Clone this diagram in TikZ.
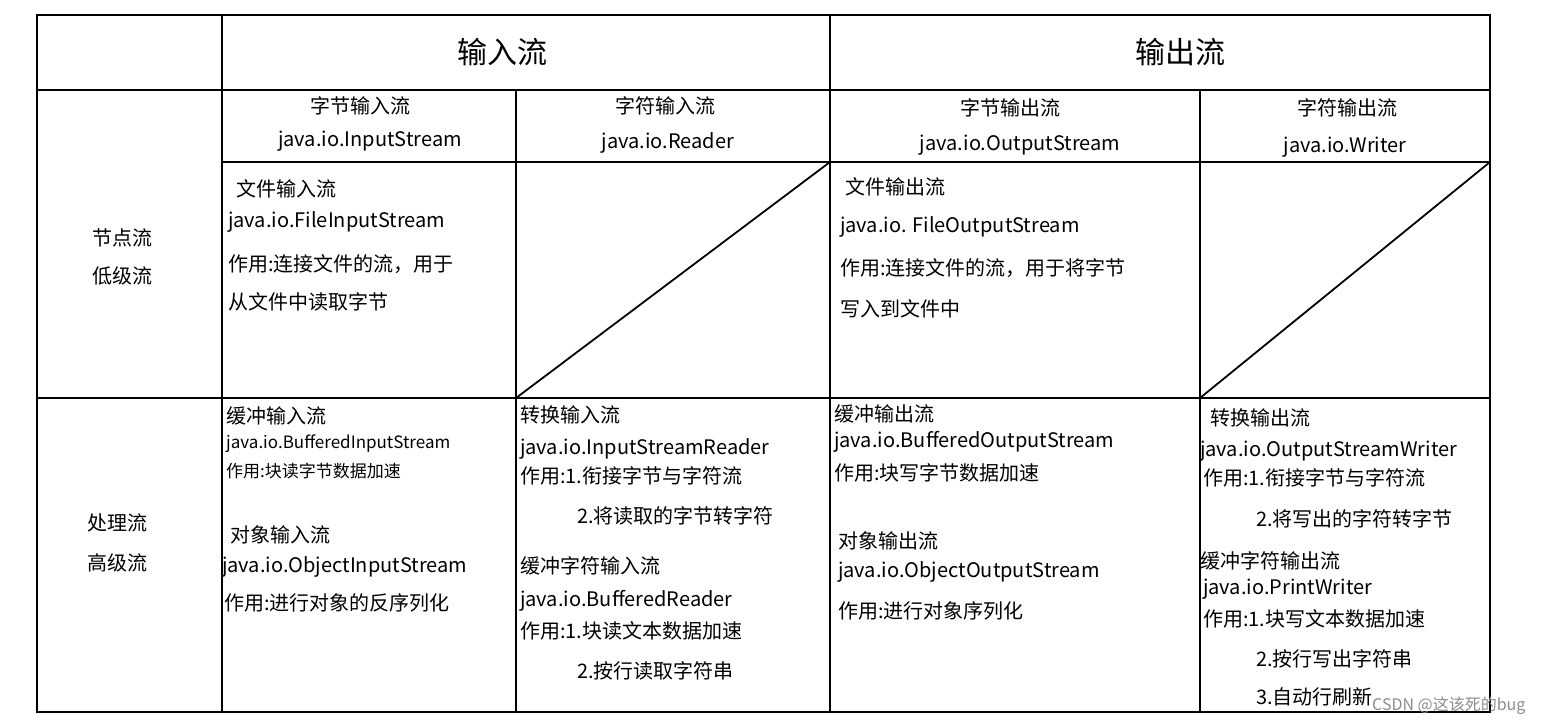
\documentclass[tikz,border=0pt]{standalone}
\usepackage{fontspec}
\setmainfont{Noto Sans CJK SC}
\begin{document}
\begin{tikzpicture}[x=1pt,y=-1pt,
  grid/.style={line width=1.8pt,black},
  t/.style={anchor=west,inner sep=0pt,font=\fontsize{20}{24}\selectfont},
  c/.style={anchor=center,inner sep=0pt,font=\fontsize{20}{24}\selectfont},
  h/.style={anchor=center,inner sep=0pt,font=\fontsize{30}{34}\selectfont}]
\useasboundingbox (0,0) rectangle (1554,726);
\fill[white] (0,0) rectangle (1554,726);
% grid
\draw[grid] (37,15) rectangle (1490,712);
\draw[grid] (37,90) -- (1490,90);
\draw[grid] (222,162) -- (1490,162);
\draw[grid] (37,398) -- (1490,398);
\draw[grid] (222,15) -- (222,712);
\draw[grid] (830,15) -- (830,712);
\draw[grid] (516,90) -- (516,712);
\draw[grid] (1200,90) -- (1200,712);
\coordinate (d1a) at (516,398); \coordinate (d1b) at (830,162);
\coordinate (d2a) at (1200,398); \coordinate (d2b) at (1490,162);
\draw[grid] (d1a) -- (d1b);
\draw[grid] (d2a) -- (d2b);
% headers
\node[h] (hin) at (502,52) {输入流};
\node[h] (hout) at (1180,52) {输出流};
\node[c] (c1a) at (360,106) {字节输入流};
\node[c] (c1b) at (370,141) {java.io.InputStream};
\node[c] (c2a) at (665,106) {字符输入流};
\node[c] (c2b) at (668,143) {java.io.Reader};
\node[c] (c3a) at (1010,108) {字节输出流};
\node[c] (c3b) at (1020,145) {java.io.OutputStream};
\node[c] (c4a) at (1347,108) {字符输出流};
\node[c] (c4b) at (1345,147) {java.io.Writer};
% row labels
\node[t] (r1a) at (92,238) {节点流};
\node[t] (r1b) at (92,276) {低级流};
\node[t] (r2a) at (87,523) {处理流};
\node[t] (r2b) at (87,563) {高级流};
% node stream cells
\node[t] (a1) at (236,189) {文件输入流};
\node[t] (a2) at (228,222) {java.io.FileInputStream};
\node[t] (a3) at (228,264) {作用:连接文件的流，用于};
\node[t] (a4) at (228,302) {从文件中读取字节};
\node[t] (b1) at (845,187) {文件输出流};
\node[t] (b2) at (840,227) {java.io. FileOutputStream};
\node[t] (b3) at (840,268) {作用:连接文件的流，用于将字节};
\node[t] (b4) at (840,309) {写入到文件中};
% processing cells col1
\node[t] (p1) at (226,416) {缓冲输入流};
\node[t,font=\fontsize{17}{20}\selectfont] (p2) at (226,444) {java.io.BufferedInputStream};
\node[t,font=\fontsize{17}{20}\selectfont] (p3) at (226,471) {作用:块读字节数据加速};
\node[t] (p4) at (230,535) {对象输入流};
\node[t] (p5) at (222,567) {java.io.ObjectInputStream};
\node[t] (p6) at (224,603) {作用:进行对象的反序列化};
% col2
\node[t] (q1) at (520,415) {转换输入流};
\node[t] (q2) at (520,449) {java.io.InputStreamReader};
\node[t] (q3) at (520,476) {作用:1.衔接字节与字符流};
\node[t] (q4) at (577,516) {2.将读取的字节转字符};
\node[t] (q5) at (520,566) {缓冲字符输入流};
\node[t] (q6) at (520,601) {java.io.BufferedReader};
\node[t] (q7) at (520,631) {作用:1.块读文本数据加速};
\node[t] (q8) at (577,671) {2.按行读取字符串};
% col3
\node[t] (s1) at (834,414) {缓冲输出流};
\node[t] (s2) at (834,442) {java.io.BufferedOutputStream};
\node[t] (s3) at (834,473) {作用:块写字节数据加速};
\node[t] (s4) at (838,541) {对象输出流};
\node[t] (s5) at (838,572) {java.io.ObjectOutputStream};
\node[t] (s6) at (838,611) {作用:进行对象序列化};
% col4
\node[t] (u1) at (1210,418) {转换输出流};
\node[t] (u2) at (1200,451) {java.io.OutputStreamWriter};
\node[t] (u3) at (1203,478) {作用:1.衔接字节与字符流};
\node[t] (u4) at (1256,519) {2.将写出的字符转字节};
\node[t] (u5) at (1200,561) {缓冲字符输出流};
\node[t] (u6) at (1203,589) {java.io.PrintWriter};
\node[t] (u7) at (1203,619) {作用:1.块写文本数据加速};
\node[t] (u8) at (1256,659) {2.按行写出字符串};
\node[t] (u9) at (1256,697) {3.自动行刷新};
\node[t,font=\fontsize{16}{18}\selectfont,text=black!45] (wm) at (1372,706) {CSDN @这该死的bug};
\end{tikzpicture}
\end{document}
